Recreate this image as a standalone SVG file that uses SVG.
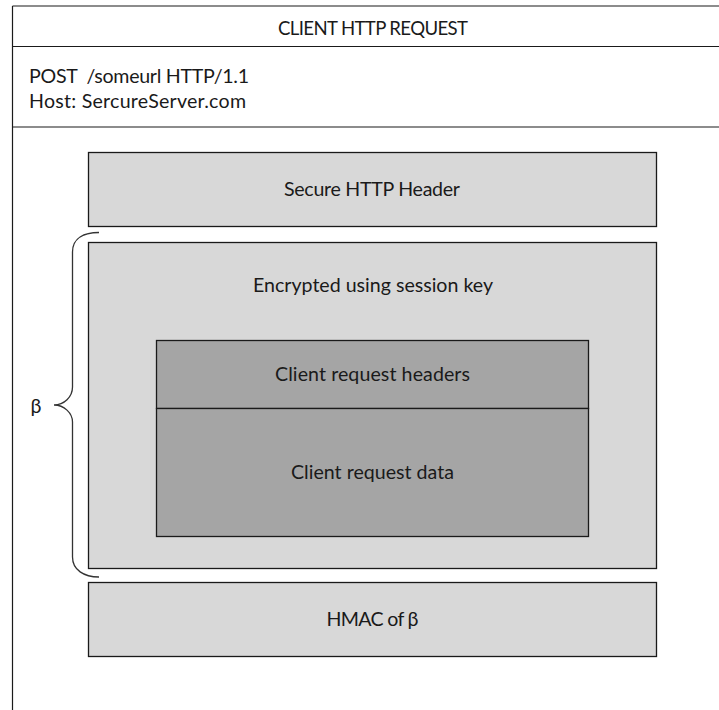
<svg xmlns="http://www.w3.org/2000/svg" width="719" height="710" viewBox="0 0 719 710">
  <style>
    .frame { fill: none; stroke: #1a1a1a; stroke-width: 1.2; }
    .light { fill: #d8d8d8; stroke: #1a1a1a; stroke-width: 1.3; }
    .dark { fill: #a5a5a5; stroke: #1a1a1a; stroke-width: 1.3; }
    .lbl { font-family: Lato, "Open Sans", sans-serif; font-size: 19.6px; fill: #1a1a1a; }
    .cap { font-size: 18.6px; }
    .mid { text-anchor: middle; }
    .brace { fill: none; stroke: #333; stroke-width: 1.3; }
  </style>
  <rect width="719" height="710" fill="#ffffff"/>

  <!-- outer request frame (runs off the right and bottom edges) -->
  <g id="request-frame">
    <line class="frame" x1="12.5" y1="6" x2="719" y2="6"/>
    <line class="frame" x1="12.5" y1="6" x2="12.5" y2="710"/>
    <line class="frame" x1="12.5" y1="46.5" x2="719" y2="46.5"/>
    <line class="frame" x1="12.5" y1="127" x2="719" y2="127"/>
    <text class="lbl cap mid" x="373" y="35" textLength="190" lengthAdjust="spacing">CLIENT HTTP REQUEST</text>
    <text class="lbl" x="29" y="83" textLength="220" lengthAdjust="spacing" xml:space="preserve">POST  /someurl HTTP/1.1</text>
    <text class="lbl" x="29" y="108" textLength="217" lengthAdjust="spacing">Host: SercureServer.com</text>
  </g>

  <g id="secure-header">
    <rect class="light" x="88.5" y="152.5" width="568" height="74"/>
    <text class="lbl mid" x="372" y="196" textLength="176" lengthAdjust="spacing">Secure HTTP Header</text>
  </g>

  <g id="encrypted-body">
    <rect class="light" x="88.5" y="242.5" width="568" height="326"/>
    <text class="lbl mid" x="373" y="292" textLength="240" lengthAdjust="spacing">Encrypted using session key</text>
  </g>

  <g id="client-headers">
    <rect class="dark" x="156.5" y="340.5" width="432" height="68"/>
    <text class="lbl mid" x="372.5" y="381" textLength="195" lengthAdjust="spacing">Client request headers</text>
  </g>

  <g id="client-data">
    <rect class="dark" x="156.5" y="408.5" width="432" height="128"/>
    <text class="lbl mid" x="372.5" y="479" textLength="163" lengthAdjust="spacing">Client request data</text>
  </g>

  <g id="hmac">
    <rect class="light" x="88.5" y="582.5" width="568" height="74"/>
    <text class="lbl mid" x="372.5" y="626" textLength="92" lengthAdjust="spacing">HMAC of β</text>
  </g>

  <!-- brace marking the span called beta -->
  <g id="connectors">
    <path class="brace" d="M 99,232.5 C 84,232.5 72.5,238 72.5,252 L 72.5,387 C 72.5,397 64,405 54,405 C 64,405 72.5,413 72.5,422 L 72.5,557 C 72.5,570 84,577 99,577"/>
  </g>
  <g id="beta-label">
    <text class="lbl mid" x="36" y="413">β</text>
  </g>
</svg>
